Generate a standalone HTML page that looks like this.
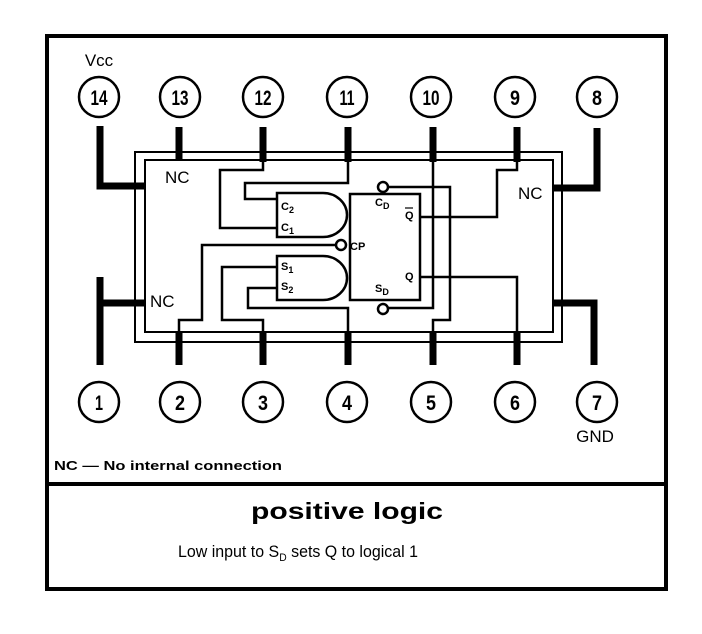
<!DOCTYPE html>
<html><head><style>
html,body{margin:0;padding:0;background:#fff;}
svg{display:block;}
text{font-family:"Liberation Sans",sans-serif;fill:#000;}
</style></head><body>
<svg width="702" height="634" viewBox="0 0 702 634" xmlns="http://www.w3.org/2000/svg">
<rect x="47" y="36" width="619" height="553" fill="none" stroke="#000" stroke-width="4"/>
<line x1="47" y1="484" x2="666" y2="484" stroke="#000" stroke-width="4"/>
<rect x="135" y="152" width="427" height="190" fill="none" stroke="#000" stroke-width="2"/>
<rect x="145" y="160" width="408" height="172" fill="none" stroke="#000" stroke-width="2"/>
<g stroke="#000" stroke-width="7" fill="none" stroke-linecap="butt">
<polyline points="100,126 100,186 145,186"/>
<polyline points="100,277 100,365"/>
<line x1="100" y1="303" x2="145" y2="303"/>
<polyline points="597,128 597,188 553,188"/>
<polyline points="553,303 594,303 594,365"/>
<line x1="179" y1="127" x2="179" y2="160"/>
<line x1="263" y1="127" x2="263" y2="162"/>
<line x1="348" y1="127" x2="348" y2="162"/>
<line x1="433" y1="127" x2="433" y2="162"/>
<line x1="517" y1="127" x2="517" y2="162"/>
<line x1="179" y1="332" x2="179" y2="365"/>
<line x1="263" y1="332" x2="263" y2="365"/>
<line x1="348" y1="332" x2="348" y2="365"/>
<line x1="433" y1="332" x2="433" y2="365"/>
<line x1="517" y1="332" x2="517" y2="365"/>
</g>
<g stroke="#000" stroke-width="2.5" fill="none">
<polyline points="263,160 263,170 220,170 220,228 277,228"/>
<polyline points="348,160 348,183 245,183 245,199 277,199"/>
<polyline points="336,245 202,245 202,320 179,320 179,332"/>
<polyline points="277,267 222,267 222,320 263,320 263,332"/>
<polyline points="277,288 248,288 248,308 348,308 348,332"/>
<polyline points="388,187 450,187 450,320 433,320 433,332"/>
<polyline points="433,160 433,308 388,308"/>
<polyline points="420,217 497,217 497,170 517,170 517,160"/>
<polyline points="420,277 517,277 517,332"/>
<path d="M277,193 L323,193 A24,22 0 0 1 323,237 L277,237 Z"/>
<path d="M277,256 L323,256 A24,22 0 0 1 323,300 L277,300 Z"/>
<rect x="350" y="194" width="70" height="106"/>
<circle cx="341" cy="245" r="5" fill="#fff"/>
<circle cx="383" cy="187" r="5" fill="#fff"/>
<circle cx="383" cy="309" r="5" fill="#fff"/>
</g>
<g font-size="17">
<text x="165" y="183">NC</text>
<text x="150" y="307">NC</text>
<text x="518" y="199">NC</text>
</g>
<g font-size="11" font-weight="bold">
<text x="281" y="210">C<tspan font-size="9" dy="3">2</tspan></text>
<text x="281" y="231">C<tspan font-size="9" dy="3">1</tspan></text>
<text x="281" y="270">S<tspan font-size="9" dy="3">1</tspan></text>
<text x="281" y="290">S<tspan font-size="9" dy="3">2</tspan></text>
<text x="375" y="206">C<tspan font-size="9" dy="3">D</tspan></text>
<text x="375" y="292">S<tspan font-size="9" dy="3">D</tspan></text>
<text x="405" y="219">Q</text>
<line x1="405" y1="208" x2="413" y2="208" stroke="#000" stroke-width="1.2"/>
<text x="405" y="280">Q</text>
<text x="350" y="250">CP</text>
</g>
<g fill="none" stroke="#000" stroke-width="2.5">
<circle cx="99" cy="97" r="20"/><circle cx="180" cy="97" r="20"/><circle cx="263" cy="97" r="20"/>
<circle cx="347" cy="97" r="20"/><circle cx="431" cy="97" r="20"/><circle cx="515" cy="97" r="20"/><circle cx="597" cy="97" r="20"/>
<circle cx="99" cy="402" r="20"/><circle cx="180" cy="402" r="20"/><circle cx="263" cy="402" r="20"/>
<circle cx="347" cy="402" r="20"/><circle cx="431" cy="402" r="20"/><circle cx="515" cy="402" r="20"/><circle cx="597" cy="402" r="20"/>
</g>
<g font-size="21" font-weight="bold" text-anchor="middle">
<text x="99" y="105" textLength="17" lengthAdjust="spacingAndGlyphs">14</text>
<text x="180" y="105" textLength="17" lengthAdjust="spacingAndGlyphs">13</text>
<text x="263" y="105" textLength="17" lengthAdjust="spacingAndGlyphs">12</text>
<text x="347" y="105" textLength="15" lengthAdjust="spacingAndGlyphs">11</text>
<text x="431" y="105" textLength="17" lengthAdjust="spacingAndGlyphs">10</text>
<text x="515" y="105" textLength="10" lengthAdjust="spacingAndGlyphs">9</text><text x="597" y="105" textLength="10" lengthAdjust="spacingAndGlyphs">8</text>
<text x="99" y="410" textLength="8" lengthAdjust="spacingAndGlyphs">1</text><text x="180" y="410" textLength="10" lengthAdjust="spacingAndGlyphs">2</text><text x="263" y="410" textLength="10" lengthAdjust="spacingAndGlyphs">3</text>
<text x="347" y="410" textLength="10" lengthAdjust="spacingAndGlyphs">4</text><text x="431" y="410" textLength="10" lengthAdjust="spacingAndGlyphs">5</text><text x="515" y="410" textLength="10" lengthAdjust="spacingAndGlyphs">6</text><text x="597" y="410" textLength="10" lengthAdjust="spacingAndGlyphs">7</text>
</g>
<text x="99" y="66" font-size="17" text-anchor="middle">Vcc</text>
<text x="595" y="442" font-size="17" text-anchor="middle">GND</text>
<text x="54" y="470" font-size="13" font-weight="bold" textLength="228" lengthAdjust="spacingAndGlyphs">NC — No internal connection</text>
<text x="251" y="519" font-size="23" font-weight="bold" textLength="192" lengthAdjust="spacingAndGlyphs">positive  logic</text>
<text x="178" y="557" font-size="17" textLength="240" lengthAdjust="spacingAndGlyphs">Low input to S<tspan font-size="11" dy="4">D</tspan><tspan dy="-4"> sets Q to logical 1</tspan></text>
</svg>
</body></html>
